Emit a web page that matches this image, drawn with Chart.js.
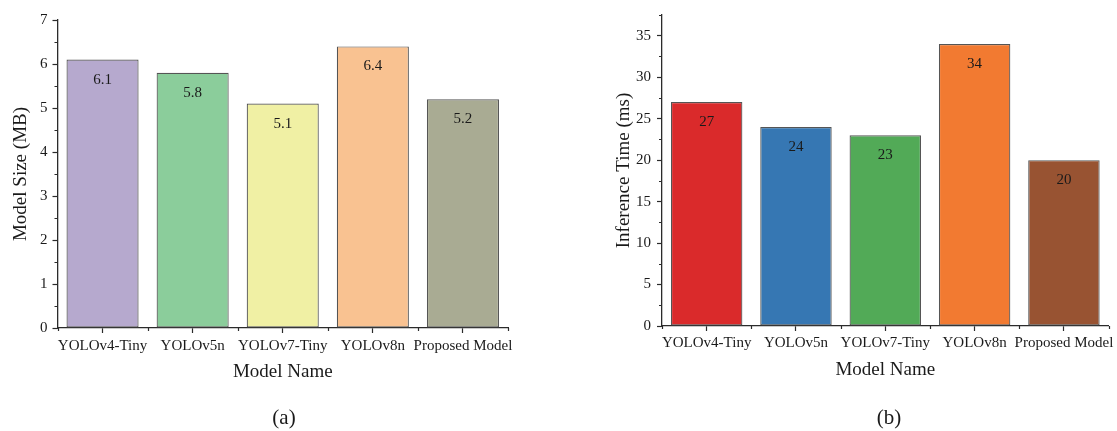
<!DOCTYPE html>
<html>
<head>
<meta charset="utf-8">
<script src="https://cdn.jsdelivr.net/npm/chart.js@4.4.1/dist/chart.umd.min.js"></script>
<style>
  html, body { margin: 0; padding: 0; background: #fff; }
  body { width: 1117px; height: 431px; position: relative; overflow: hidden; font-family: "Liberation Serif", "Times New Roman", serif; }
  #c1 { position: absolute; left: 0; top: 0; }
  #c2 { position: absolute; left: 560px; top: 0; }
  .cap { position: absolute; top: 404px; font-size: 21px; color: #1a1a1a; transform: translateX(-50%); line-height: 26px; }
</style>
</head>
<body>
<canvas id="c1" width="560" height="431"></canvas>
<canvas id="c2" width="557" height="431"></canvas>
<div class="cap" style="left:284px">(a)</div>
<div class="cap" style="left:889px">(b)</div>
<script>
// ---- data ----
const models = ['YOLOv4-Tiny', 'YOLOv5n', 'YOLOv7-Tiny', 'YOLOv8n', 'Proposed Model'];
const modelSize = [6.1, 5.8, 5.1, 6.4, 5.2];
const inferenceTime = [27, 24, 23, 34, 20];
const sizeColors = ['#B6A9CE', '#8BCD9B', '#F0F0A4', '#F9C291', '#A9AB93'];
const timeColors = ['#DA2A2B', '#3677B3', '#52AA57', '#F27A31', '#985332'];
const sizeAxis = { min: 0, max: 7, step: 1 };
const timeAxis = { min: 0, max: 37.5, step: 5 };

const FONT = '"Liberation Serif", "Times New Roman", serif';
const AXIS = '#2b2b2b';
const TEXT = '#1a1a1a';

const barLabels = {
  id: 'barLabels',
  afterDatasetsDraw(chart) {
    const ctx = chart.ctx;
    const meta = chart.getDatasetMeta(0);
    const data = chart.data.datasets[0].data;
    ctx.save();
    ctx.font = '15px ' + FONT;
    ctx.fillStyle = TEXT;
    ctx.textAlign = 'center';
    ctx.textBaseline = 'middle';
    meta.data.forEach((bar, i) => {
      ctx.fillText(String(data[i]), bar.x, bar.y + 20);
    });
    ctx.restore();
  }
};

const minorTicks = {
  id: 'minorTicks',
  afterDraw(chart, args, opts) {
    const ctx = chart.ctx;
    const xs = chart.scales.x, ys = chart.scales.y;
    ctx.save();
    ctx.strokeStyle = AXIS;
    ctx.lineWidth = 1.2;
    ctx.beginPath();
    // y minor ticks
    const step = opts.step;
    for (let v = opts.min + step / 2; v <= opts.max + 1e-9; v += step) {
      const py = Math.round(ys.getPixelForValue(v)) + 0.5;
      ctx.moveTo(xs.left - 3, py);
      ctx.lineTo(xs.left, py);
    }
    // x minor ticks at category boundaries
    const n = chart.data.labels.length;
    const bounds = [chart.chartArea.left, chart.chartArea.right];
    for (let i = 0; i < n - 1; i++) {
      bounds.push((xs.getPixelForValue(i) + xs.getPixelForValue(i + 1)) / 2);
    }
    bounds.forEach(b => {
      const px = Math.round(b) + 0.5;
      ctx.moveTo(px, ys.bottom);
      ctx.lineTo(px, ys.bottom + 3);
    });
    ctx.stroke();
    ctx.restore();
  }
};

function makeChart(id, values, colors, axis, yTitle, layout, dims) {
  return new Chart(document.getElementById(id), {
    type: 'bar',
    data: {
      labels: models,
      datasets: [{
        data: values,
        backgroundColor: colors,
        borderColor: '#555555',
        borderWidth: 1.2,
        borderSkipped: false,
        categoryPercentage: 0.8,
        barPercentage: 1.0
      }]
    },
    options: {
      responsive: false,
      animation: false,
      devicePixelRatio: 1,
      layout: { padding: layout },
      plugins: {
        legend: { display: false },
        tooltip: { enabled: false },
        minorTicks: axis
      },
      scales: {
        x: {
          offset: true,
          grid: { display: true, offset: false, drawOnChartArea: false, drawTicks: true, tickLength: 5, tickColor: AXIS, tickWidth: 1.2 },
          border: { display: true, color: AXIS, width: 1.3 },
          ticks: { color: TEXT, font: { family: FONT, size: 15 }, padding: dims.xPad, autoSkip: false, minRotation: 0, maxRotation: 0 },
          title: { display: true, text: 'Model Name', color: TEXT, font: { family: FONT, size: 19 }, padding: { top: 0, bottom: 0 } },
          afterFit(scale) { scale.height = dims.xHeight; }
        },
        y: {
          min: axis.min,
          max: axis.max,
          bounds: 'data',
          grid: { display: true, drawOnChartArea: false, drawTicks: true, tickLength: 5, tickColor: AXIS, tickWidth: 1.2 },
          border: { display: true, color: AXIS, width: 1.3 },
          ticks: { stepSize: axis.step, includeBounds: false, color: TEXT, font: { family: FONT, size: 15 }, padding: dims.yPad },
          title: { display: true, text: yTitle, color: TEXT, font: { family: FONT, size: 19 }, padding: { top: dims.yTitlePad, bottom: 0 } },
          afterFit(scale) { scale.width = dims.yWidth; }
        }
      }
    },
    plugins: [barLabels, minorTicks]
  });
}

makeChart('c1', modelSize, sizeColors, sizeAxis, 'Model Size (MB)',
  { left: 0, right: 52, top: 20, bottom: 47.6 },
  { xHeight: 55.4, xPad: 4, yWidth: 57.5, yPad: 5, yTitlePad: 10 });

makeChart('c2', inferenceTime, timeColors, timeAxis, 'Inference Time (ms)',
  { left: 42, right: 7, top: 14, bottom: 49.6 },
  { xHeight: 55.4, xPad: 3, yWidth: 60, yPad: 6, yTitlePad: 10.5 });
</script>
</body>
</html>
